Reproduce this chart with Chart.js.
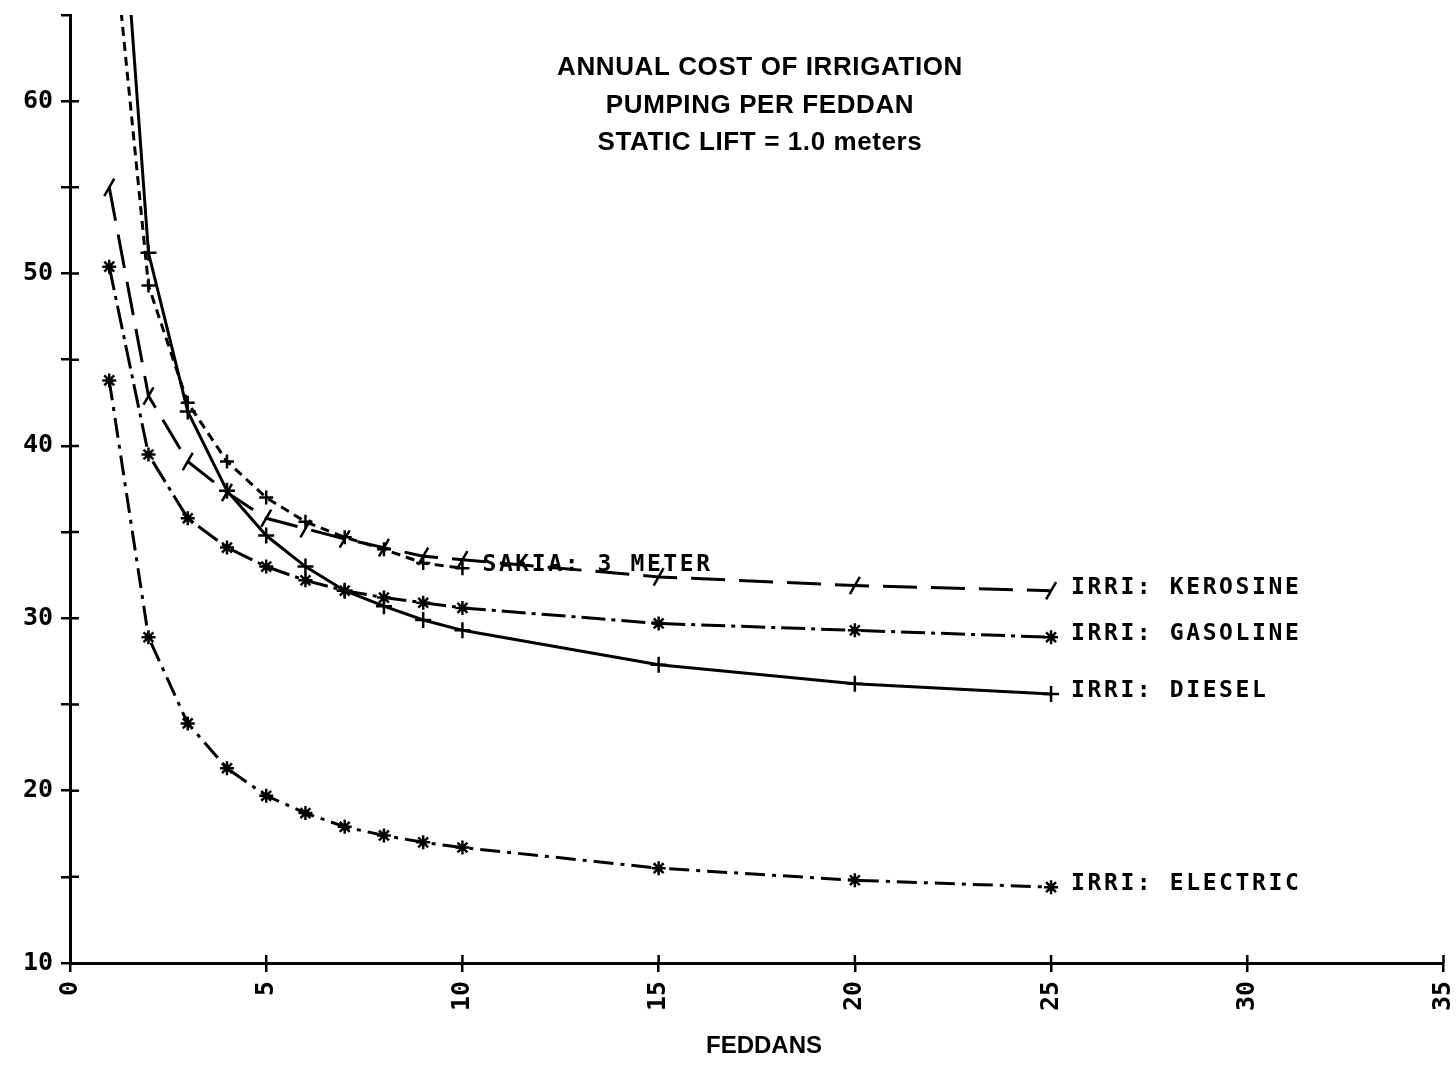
<!DOCTYPE html>
<html>
<head>
<meta charset="utf-8">
<script src="https://cdn.jsdelivr.net/npm/chart.js@4"></script>
<style>
  html, body { margin: 0; padding: 0; background: #fff; }
  #wrap { width: 1456px; height: 1066px; }
</style>
</head>
<body>
<div id="wrap"><canvas id="costChart" width="1456" height="1066"></canvas></div>
<script>
// feddans on the x axis, cost per feddan on the y axis
const feddans = [1, 2, 3, 4, 5, 6, 7, 8, 9, 10, 15, 20, 25];
const sakiaFeddans = [1, 2, 3, 4, 5, 6, 7, 8, 9, 10];

const sakia = [72.1, 49.3, 42.5, 39.1, 37.0, 35.6, 34.7, 34.0, 33.2, 32.9];
const kerosene = [55.0, 42.9, 39.1, 37.3, 35.8, 35.2, 34.6, 34.1, 33.6, 33.4, 32.4, 31.9, 31.6];
const gasoline = [50.4, 39.5, 35.8, 34.1, 33.0, 32.2, 31.6, 31.2, 30.9, 30.6, 29.7, 29.3, 28.9];
const diesel = [82.4, 51.2, 42.0, 37.4, 34.8, 33.0, 31.6, 30.7, 29.9, 29.3, 27.3, 26.2, 25.6];
const electric = [43.8, 28.9, 23.9, 21.3, 19.7, 18.7, 17.9, 17.4, 17.0, 16.7, 15.5, 14.8, 14.4];

const titleLines = ["ANNUAL COST OF IRRIGATION", "PUMPING PER FEDDAN", "STATIC LIFT = 1.0 meters"];
const xTitle = "FEDDANS";

const pts = (xs, ys) => ys.map((y, i) => ({ x: xs[i], y: y }));

function series(label, xs, ys, dash, style, rot, size) {
    return {
        label: label,
        data: pts(xs, ys),
        borderColor: "#000",
        borderWidth: 3,
        borderDash: dash,
        pointStyle: style,
        rotation: rot || 0,
        pointRadius: size || 7,
        pointBorderWidth: 2.5,
        pointBorderColor: "#000",
        pointBackgroundColor: "#000",
        tension: 0,
        fill: false,
    };
}

// labels at line ends, title, inner half of tick marks
const overlay = {
    id: "overlay",
    afterDraw(chart) {
        const ctx = chart.ctx;
        const xs = chart.scales.x, ys = chart.scales.y;
        const area = chart.chartArea;
        ctx.save();

        // inner half of the tick marks
        ctx.strokeStyle = "#000";
        ctx.lineWidth = 2.5;
        ctx.beginPath();
        for (let v = 5; v <= 35; v += 5) {
            const px = xs.getPixelForValue(v);
            ctx.moveTo(px, area.bottom);
            ctx.lineTo(px, area.bottom - 8);
        }
        for (let v = 15; v <= 60; v += 5) {
            const py = ys.getPixelForValue(v);
            ctx.moveTo(area.left, py);
            ctx.lineTo(area.left + 9, py);
        }
        ctx.stroke();

        // title
        ctx.fillStyle = "#000";
        ctx.textAlign = "center";
        ctx.textBaseline = "middle";
        ctx.font = "bold 26px 'Liberation Sans', Arial, sans-serif";
        ctx.letterSpacing = "0.6px";
        titleLines.forEach((t, i) => ctx.fillText(t, 760, 68 + i * 37.5));

        ctx.font = "bold 24px 'Liberation Sans', Arial, sans-serif";
        ctx.letterSpacing = "0px";
        ctx.fillText(xTitle, 764, 1046);

        // curve labels
        ctx.textAlign = "left";
        ctx.font = "bold 23px 'DejaVu Sans Mono', monospace";
        ctx.letterSpacing = "2.6px";
        const ends = [
            ["IRRI: KEROSINE", 25, kerosene[kerosene.length - 1]],
            ["IRRI: GASOLINE", 25, gasoline[gasoline.length - 1]],
            ["IRRI: DIESEL", 25, diesel[diesel.length - 1]],
            ["IRRI: ELECTRIC", 25, electric[electric.length - 1]],
            ["SAKIA: 3 METER", 10, sakia[sakia.length - 1]],
        ];
        ends.forEach(e => {
            ctx.fillText(e[0], xs.getPixelForValue(e[1]) + 20, ys.getPixelForValue(e[2]) - 3);
        });
        ctx.restore();
    },
};

const costChart = new Chart(document.getElementById("costChart").getContext("2d"), {
    type: "line",
    data: {
        datasets: [
            series("SAKIA: 3 METER", sakiaFeddans, sakia, [9, 6], "cross"),
            series("IRRI: KEROSINE", feddans, kerosene, [34, 14], "line", -60, 10),
            series("IRRI: GASOLINE", feddans, gasoline, [24, 6, 4, 6], "star"),
            series("IRRI: DIESEL", feddans, diesel, [], "cross", 0, 8),
            series("IRRI: ELECTRIC", feddans, electric, [20, 7, 4, 7], "star"),
        ],
    },
    plugins: [overlay],
    options: {
        responsive: false,
        animation: false,
        layout: { padding: { top: 15, right: 11, left: 0, bottom: 0 } },
        plugins: { legend: { display: false }, tooltip: { enabled: false } },
        scales: {
            x: {
                type: "linear",
                min: 0,
                max: 35,
                afterFit: s => { s.height = 103; s.paddingLeft = 0; s.paddingRight = 0; },
                border: { color: "#000", width: 3 },
                grid: { drawOnChartArea: false, color: "#000", lineWidth: 2.5, tickLength: 9 },
                ticks: {
                    stepSize: 5,
                    autoSkip: false,
                    minRotation: 90,
                    maxRotation: 90,
                    padding: 9,
                    color: "#000",
                    font: { family: "'DejaVu Sans Mono', monospace", size: 25, weight: "bold" },
                },
            },
            y: {
                min: 10,
                max: 65,
                afterFit: s => { s.width = 70; s.paddingTop = 0; s.paddingBottom = 0; },
                border: { color: "#000", width: 3 },
                grid: { drawOnChartArea: false, color: "#000", lineWidth: 2.5, tickLength: 9 },
                ticks: {
                    stepSize: 5,
                    padding: 8,
                    color: "#000",
                    font: { family: "'DejaVu Sans Mono', monospace", size: 25, weight: "bold" },
                    callback: v => (v % 10 === 0 ? String(v) : ""),
                },
            },
        },
    },
});
</script>
</body>
</html>
